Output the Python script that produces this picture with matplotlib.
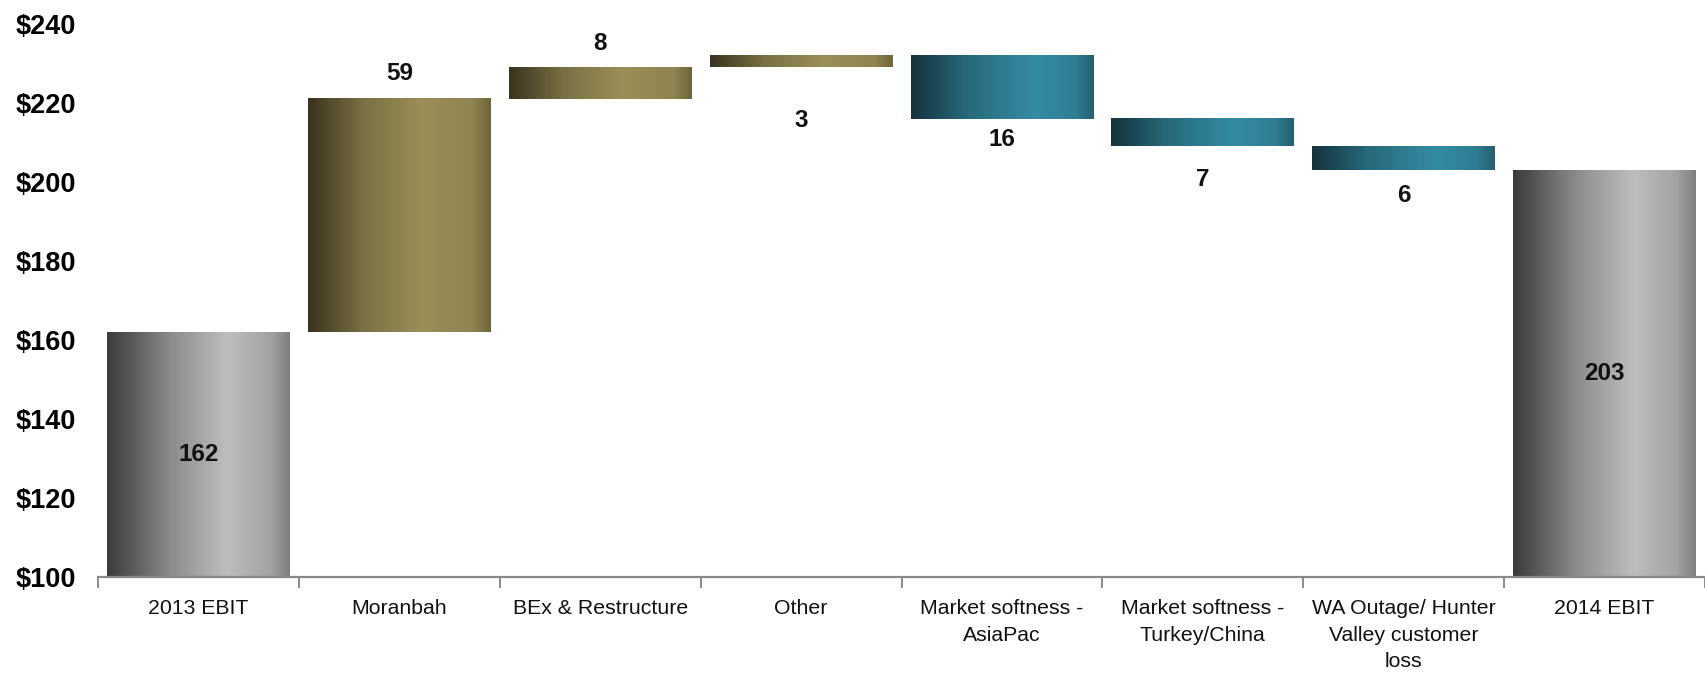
import numpy as np
import matplotlib
matplotlib.use("Agg")
import matplotlib.pyplot as plt
from matplotlib.colors import LinearSegmentedColormap

# EBIT bridge, 2013 -> 2014 ($m)
categories = ["2013 EBIT", "Moranbah", "BEx & Restructure", "Other",
              "Market softness -\nAsiaPac", "Market softness -\nTurkey/China",
              "WA Outage/ Hunter\nValley customer\nloss", "2014 EBIT"]
start_total = 162
changes = [59, 8, 3, -16, -7, -6]
end_total = 203
y_ticks = [100, 120, 140, 160, 180, 200, 220, 240]
y_tick_labels = ["$100", "$120", "$140", "$160", "$180", "$200", "$220", "$240"]

# label placement (pixels from bar edge) for the step labels
step_label_offsets = [26, 24, -53, -21, -33, -25]

gray_cmap = LinearSegmentedColormap.from_list(
    "gray_bar", [(0.0, "#3a3a3a"), (0.35, "#8c8c8c"), (0.66, "#bebebe"), (0.9, "#a2a2a2"), (1.0, "#7e7e7e")])
olive_cmap = LinearSegmentedColormap.from_list(
    "olive_bar", [(0.0, "#39331f"), (0.3, "#7a7044"), (0.62, "#9a8f58"), (0.9, "#8f8452"), (1.0, "#6f6639")])
teal_cmap = LinearSegmentedColormap.from_list(
    "teal_bar", [(0.0, "#15323c"), (0.3, "#27697a"), (0.68, "#348ca3"), (0.9, "#2f7d92"), (1.0, "#25606f")])

fig = plt.figure(figsize=(17.05, 6.73), dpi=100)
ax = fig.add_axes([98 / 1705, 1 - 577 / 673, 1 - 98 / 1705, (577 - 24) / 673])

bar_w = 0.91
grad = np.linspace(0, 1, 256).reshape(1, -1)


def gradient_bar(x, y0, y1, cmap):
    lo, hi = min(y0, y1), max(y0, y1)
    ax.imshow(grad, cmap=cmap, aspect="auto", interpolation="bilinear",
              extent=[x - bar_w / 2, x + bar_w / 2, lo, hi], zorder=2)


value_font = dict(fontsize=17.5, fontweight="bold", color="#111111",
                  family=["Liberation Sans Narrow", "Liberation Sans"])

# opening total
gradient_bar(0, 100, start_total, gray_cmap)
ax.text(0, (100 + start_total) / 2, f"{start_total}", ha="center", va="center", **value_font)

# steps
level = start_total
for i, (d, off) in enumerate(zip(changes, step_label_offsets)):
    x = i + 1
    new_level = level + d
    cmap = olive_cmap if d > 0 else teal_cmap
    gradient_bar(x, level, new_level, cmap)
    top, bottom = max(level, new_level), min(level, new_level)
    anchor = top if off > 0 else bottom
    ax.annotate(f"{abs(d)}", xy=(x, anchor), xytext=(0, off), textcoords="offset pixels",
                ha="center", va="center", **value_font)
    level = new_level

# closing total
gradient_bar(7, 100, end_total, gray_cmap)
ax.text(7, (100 + end_total) / 2, f"{end_total}", ha="center", va="center", **value_font)

ax.set_xlim(-0.5, 7.445)
ax.set_ylim(100, 240)

for s in ["top", "right", "left"]:
    ax.spines[s].set_visible(False)
ax.spines["bottom"].set_color("#8a8a8a")
ax.spines["bottom"].set_linewidth(1.6)
ax.spines["bottom"].set_zorder(4)

ax.set_yticks(y_ticks)
ax.set_yticklabels(y_tick_labels, fontsize=19.5, fontweight="bold", family="Liberation Sans")
ax.tick_params(axis="y", length=0, pad=16)

ax.set_xticks(range(len(categories)))
ax.set_xticklabels(categories, fontsize=15.3, family="Liberation Sans", color="#111111",
                   linespacing=1.5)
ax.tick_params(axis="x", which="major", length=0, pad=16)
ax.set_xticks(np.arange(-0.5, 8, 1.0), minor=True)
ax.tick_params(axis="x", which="minor", length=8, width=1.4, color="#8a8a8a", direction="out")

fig.savefig("out.png", dpi=100)
